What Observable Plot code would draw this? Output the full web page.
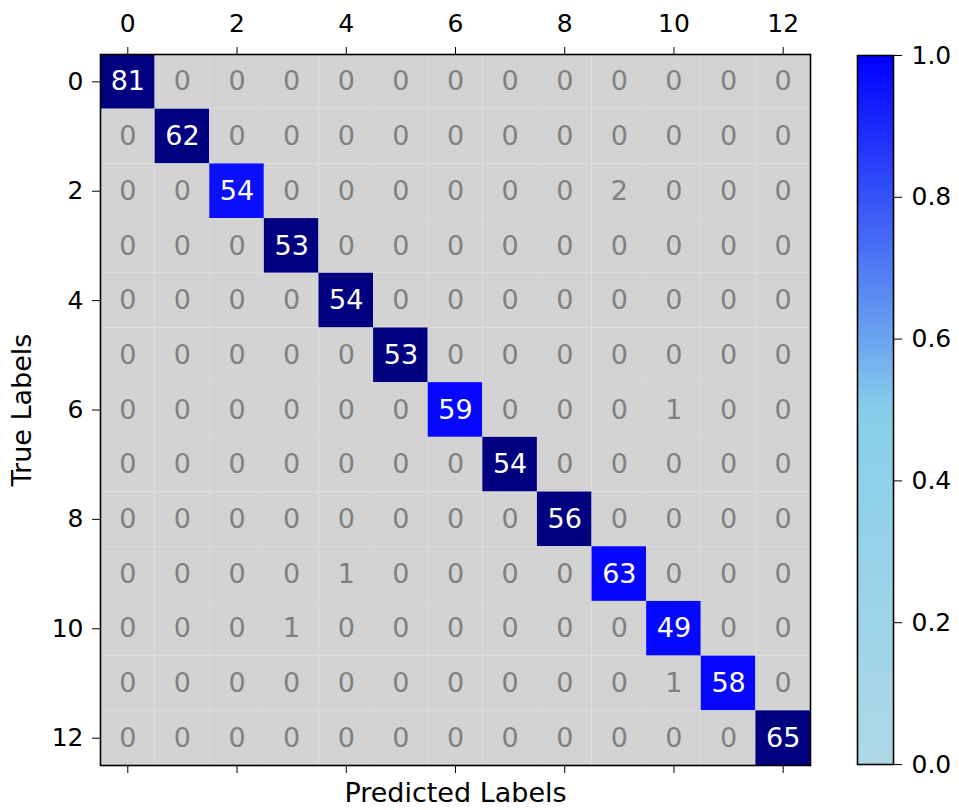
<!DOCTYPE html>
<html>
<head>
<meta charset="utf-8">
<script src="https://cdn.jsdelivr.net/npm/d3@7"></script>
<script src="https://cdn.jsdelivr.net/npm/@observablehq/plot@0.6"></script>
<style>
  body { margin: 0; background: #fff; }
  #wrap { position: relative; width: 959px; height: 810px; }
  #matrix, #colorbar { position: absolute; top: 0; }
  #matrix { left: 0; }
  #colorbar { left: 840px; }
  svg { font-family: "DejaVu Sans", sans-serif; }
</style>
</head>
<body>
<div id="wrap">
  <div id="matrix"></div>
  <div id="colorbar"></div>
</div>
<script>
// Class labels and the confusion matrix (rows = true, columns = predicted)
const classes = [0, 1, 2, 3, 4, 5, 6, 7, 8, 9, 10, 11, 12];
const evenTicks = [0, 2, 4, 6, 8, 10, 12];
const matrix = [
  [81, 0, 0, 0, 0, 0, 0, 0, 0, 0, 0, 0, 0],
  [0, 62, 0, 0, 0, 0, 0, 0, 0, 0, 0, 0, 0],
  [0, 0, 54, 0, 0, 0, 0, 0, 0, 2, 0, 0, 0],
  [0, 0, 0, 53, 0, 0, 0, 0, 0, 0, 0, 0, 0],
  [0, 0, 0, 0, 54, 0, 0, 0, 0, 0, 0, 0, 0],
  [0, 0, 0, 0, 0, 53, 0, 0, 0, 0, 0, 0, 0],
  [0, 0, 0, 0, 0, 0, 59, 0, 0, 0, 1, 0, 0],
  [0, 0, 0, 0, 0, 0, 0, 54, 0, 0, 0, 0, 0],
  [0, 0, 0, 0, 0, 0, 0, 0, 56, 0, 0, 0, 0],
  [0, 0, 0, 0, 1, 0, 0, 0, 0, 63, 0, 0, 0],
  [0, 0, 0, 1, 0, 0, 0, 0, 0, 0, 49, 0, 0],
  [0, 0, 0, 0, 0, 0, 0, 0, 0, 0, 1, 58, 0],
  [0, 0, 0, 0, 0, 0, 0, 0, 0, 0, 0, 0, 65]
];
const colorStops = ["lightblue", "skyblue", "blue"];
const perfectColor = "navy";
const offDiagonalFill = "lightgray";
const offDiagonalText = "gray";

const cmap = d3.piecewise(d3.interpolateRgb, colorStops);

// Flatten into cells; diagonal cells are shaded by row-normalized recall
const cells = [];
matrix.forEach((row, i) => {
  const total = d3.sum(row);
  row.forEach((v, j) => {
    const diag = i === j;
    const ratio = v / total;
    cells.push({
      truth: classes[i],
      pred: classes[j],
      value: v,
      fill: diag ? (ratio === 1 ? perfectColor : cmap(ratio)) : offDiagonalFill,
      ink: diag ? "white" : offDiagonalText
    });
  });
});

const tickFont = 25;
const cellFont = 27;
const labelFont = 27;

const heat = Plot.plot({
  width: 840,
  height: 810,
  marginLeft: 100,
  marginRight: 30,
  marginTop: 54,
  marginBottom: 45,
  style: { fontSize: `${tickFont}px`, fontFamily: "DejaVu Sans, sans-serif", color: "black", background: "white" },
  x: { type: "band", domain: classes, padding: 0, round: false },
  y: { type: "band", domain: classes, padding: 0, round: false },
  color: { type: "identity" },
  marks: [
    Plot.cell(cells, { x: "pred", y: "truth", fill: "fill", inset: 0 }),
    Plot.text(cells, { x: "pred", y: "truth", text: "value", fill: "ink", fontSize: cellFont }),
    Plot.frame({ stroke: "black", strokeWidth: 1.6 }),
    Plot.axisX({ anchor: "top", ticks: evenTicks, tickSize: 8, tickPadding: 15, label: null }),
    Plot.axisX({ anchor: "bottom", ticks: evenTicks, tickSize: 8, tickFormat: () => "", label: null }),
    Plot.axisY({ anchor: "left", ticks: evenTicks, tickSize: 8, tickPadding: 9, label: null }),
    // Axis titles
    Plot.text(["Predicted Labels"], { frameAnchor: "bottom", dy: 36, fontSize: labelFont, lineAnchor: "bottom", textAnchor: "middle", text: d => d }),
    Plot.text(["True Labels"], { frameAnchor: "left", dx: -78, rotate: -90, fontSize: labelFont, textAnchor: "middle", lineAnchor: "middle", text: d => d })
  ]
});
document.getElementById("matrix").appendChild(heat);

// Vertical colorbar for the recall scale
const barTicks = [0, 0.2, 0.4, 0.6, 0.8, 1.0];
const bar = Plot.plot({
  width: 119,
  height: 810,
  marginLeft: 17,
  marginRight: 66,
  marginTop: 55,
  marginBottom: 46,
  style: { fontSize: `${tickFont}px`, fontFamily: "DejaVu Sans, sans-serif", color: "black", background: "white" },
  x: { domain: [0, 1], axis: null },
  y: { domain: [0, 1] },
  color: { type: "linear", domain: [0, 1], interpolate: cmap },
  marks: [
    Plot.raster({ x1: 0, x2: 1, y1: 0, y2: 1, width: 1, height: 256, fill: (x, y) => y, imageRendering: "auto" }),
    Plot.frame({ stroke: "black", strokeWidth: 1.6 }),
    Plot.axisY({ anchor: "right", ticks: barTicks, tickFormat: d3.format(".1f"), tickSize: 8, tickPadding: 10, label: null })
  ]
});
document.getElementById("colorbar").appendChild(bar);
</script>
</body>
</html>
